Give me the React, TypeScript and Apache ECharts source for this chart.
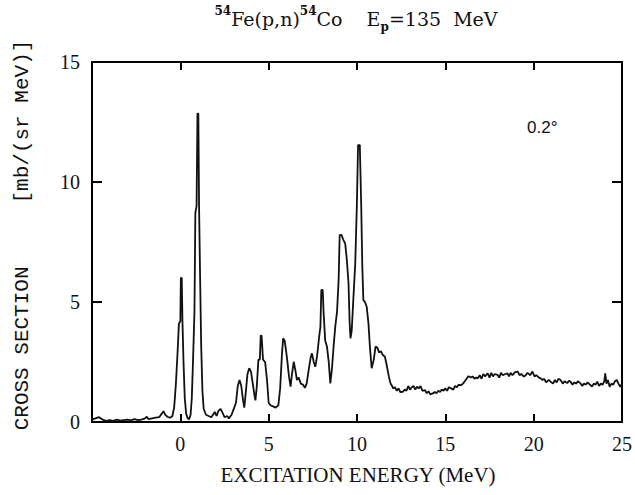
import React, { useEffect, useRef } from "react";
import * as echarts from "echarts";

// Excitation energy (MeV) and cross section (mb/(sr MeV))
const energy: number[] = [
  -5.0, -4.8, -4.6, -4.4, -4.2, -4.0, -3.8, -3.6, -3.4, -3.2, -3.0, -2.8, -2.6, -2.4, -2.2, -2.0, -1.9, -1.8, -1.6, -1.4,
  -1.2, -1.05, -0.95, -0.85, -0.7, -0.55, -0.45, -0.35, -0.25, -0.15, -0.08, 0.0, 0.03, 0.08, 0.12, 0.18, 0.25, 0.33, 0.42, 0.5,
  0.58, 0.65, 0.72, 0.8, 0.85, 0.92, 0.97, 1.02, 1.06, 1.12, 1.18, 1.25, 1.32, 1.45, 1.6, 1.75, 1.85, 1.95, 2.05, 2.15,
  2.28, 2.38, 2.5, 2.65, 2.75, 2.9, 3.05, 3.15, 3.25, 3.35, 3.45, 3.55, 3.62, 3.7, 3.8, 3.9, 4.0, 4.1, 4.2, 4.25,
  4.32, 4.42, 4.5, 4.55, 4.6, 4.68, 4.8, 4.9, 5.0, 5.1, 5.25, 5.4, 5.55, 5.65, 5.75, 5.82, 5.9, 5.98, 6.05, 6.15,
  6.24, 6.32, 6.42, 6.5, 6.6, 6.7, 6.82, 6.95, 7.05, 7.15, 7.25, 7.38, 7.45, 7.55, 7.64, 7.75, 7.85, 7.93, 7.98, 8.06,
  8.11, 8.2, 8.3, 8.4, 8.49, 8.58, 8.68, 8.77, 8.87, 8.96, 9.02, 9.12, 9.22, 9.33, 9.42, 9.52, 9.58, 9.63, 9.7, 9.8,
  9.9, 9.99, 10.06, 10.16, 10.24, 10.3, 10.36, 10.45, 10.55, 10.65, 10.73, 10.83, 10.95, 11.05, 11.15, 11.25, 11.35, 11.45, 11.58, 11.7,
  11.8, 11.9, 11.96, 12.05, 12.15, 12.25, 12.35, 12.45, 12.6, 12.7, 12.8, 12.9, 13.0, 13.1, 13.2, 13.3, 13.4, 13.5, 13.6, 13.7,
  13.84, 13.95, 14.05, 14.15, 14.3, 14.4, 14.5, 14.6, 14.7, 14.8, 14.9, 15.0, 15.1, 15.2, 15.33, 15.45, 15.55, 15.65, 15.75, 15.9,
  16.0, 16.1, 16.2, 16.3, 16.37, 16.45, 16.55, 16.65, 16.75, 16.84, 16.95, 17.05, 17.15, 17.25, 17.4, 17.5, 17.6, 17.7, 17.8, 17.96,
  18.05, 18.15, 18.25, 18.4, 18.52, 18.6, 18.7, 18.8, 18.95, 19.1, 19.2, 19.3, 19.45, 19.55, 19.65, 19.8, 19.93, 20.05, 20.15, 20.3,
  20.4, 20.5, 20.6, 20.7, 20.85, 20.96, 21.1, 21.2, 21.3, 21.4, 21.52, 21.65, 21.75, 21.9, 22.0, 22.09, 22.2, 22.3, 22.4, 22.5,
  22.65, 22.75, 22.85, 22.95, 23.05, 23.21, 23.3, 23.4, 23.5, 23.6, 23.7, 23.8, 23.9, 24.0, 24.05, 24.12, 24.2, 24.3, 24.4, 24.5,
  24.6, 24.7, 24.8, 24.9, 25.0,
];

const crossSection: number[] = [
  0.1, 0.15, 0.2, 0.1, 0.05, 0.08, 0.05, 0.1, 0.06, 0.08, 0.1, 0.07, 0.12, 0.08, 0.1, 0.15, 0.22, 0.12, 0.15, 0.18,
  0.2, 0.35, 0.45, 0.3, 0.2, 0.18, 0.25, 0.6, 1.6, 3.0, 4.1, 4.2, 6.0, 6.0, 4.2, 2.5, 1.0, 0.35, 0.15, 0.12,
  0.3, 1.0, 2.6, 4.6, 8.7, 9.0, 12.85, 12.85, 9.0, 6.0, 3.2, 1.3, 0.55, 0.3, 0.25, 0.2, 0.3, 0.42, 0.25, 0.45,
  0.55, 0.4, 0.2, 0.25, 0.15, 0.3, 0.6, 0.8, 1.5, 1.75, 1.5, 0.9, 0.6, 1.2, 2.0, 2.24, 2.1, 1.6, 1.1, 0.9,
  1.4, 2.6, 2.6, 3.6, 3.6, 2.6, 2.5, 1.8, 0.8, 0.7, 0.65, 0.6, 0.7, 1.4, 2.8, 3.49, 3.4, 3.0, 2.58, 1.9,
  1.47, 2.0, 2.51, 2.2, 1.75, 1.85, 1.6, 1.55, 1.42, 1.6, 2.1, 2.7, 2.86, 2.5, 2.3, 2.8, 3.5, 3.97, 5.5, 5.5,
  4.54, 3.4, 3.14, 2.5, 1.61, 2.2, 3.2, 3.97, 4.6, 5.92, 7.79, 7.8, 7.6, 7.44, 6.8, 5.78, 4.2, 3.49, 3.8, 5.22,
  6.6, 8.97, 11.54, 11.54, 8.97, 6.5, 5.08, 5.0, 4.8, 4.1, 3.14, 2.24, 2.6, 3.14, 3.1, 2.9, 2.95, 2.8, 2.72, 2.3,
  1.9, 1.6, 1.54, 1.4, 1.45, 1.3, 1.4, 1.25, 1.26, 1.35, 1.3, 1.5, 1.35, 1.45, 1.5, 1.35, 1.47, 1.4, 1.5, 1.3,
  1.33, 1.2, 1.28, 1.15, 1.19, 1.25, 1.2, 1.3, 1.25, 1.35, 1.3, 1.4, 1.3, 1.45, 1.4, 1.35, 1.5, 1.45, 1.55, 1.54,
  1.6, 1.7, 1.8, 1.9, 1.89, 1.85, 1.9, 1.8, 1.85, 1.82, 1.95, 1.8, 2.0, 1.9, 2.03, 1.85, 2.05, 1.9, 2.0, 1.96,
  1.85, 2.05, 1.95, 2.0, 2.03, 1.9, 2.05, 1.95, 2.08, 2.1, 1.95, 2.0, 1.89, 1.95, 2.05, 1.95, 2.1, 1.9, 1.95, 1.85,
  1.82, 1.75, 1.8, 1.65, 1.75, 1.68, 1.6, 1.75, 1.65, 1.8, 1.75, 1.6, 1.7, 1.62, 1.72, 1.68, 1.55, 1.65, 1.6, 1.7,
  1.61, 1.5, 1.6, 1.55, 1.65, 1.54, 1.48, 1.6, 1.55, 1.68, 1.5, 1.6, 1.55, 1.7, 2.03, 1.6, 1.75, 1.47, 1.6, 1.55,
  1.7, 1.75, 1.6, 1.47, 1.6,
];

const xTickLabels: number[] = [0, 5, 10, 15, 20, 25];
const yTickLabels: number[] = [0, 5, 10, 15];
const xInnerTicks: number[] = [0, 5, 10, 15, 20];
const yInnerTicks: number[] = [5, 10];

const X_MIN = -5;
const X_MAX = 25;
const Y_MIN = 0;
const Y_MAX = 15;

const INK = "#111";
const FRAME = "#000";

const GRID = { left: 92, right: 10, top: 62, bottom: 73 };
const W = 635;
const H = 495;

function axisLineOpt() {
  return { show: true, onZero: false, lineStyle: { color: FRAME, width: 2 } };
}
function axisTickOpt(length: number) {
  return { show: true, inside: true, length, lineStyle: { color: FRAME, width: 2 } };
}

export default function App() {
  const ref = useRef<HTMLDivElement>(null);

  useEffect(() => {
    if (!ref.current) return;
    const chart = echarts.init(ref.current, null, { renderer: "svg" });
    const points = energy.map((e, i) => [e, crossSection[i]]);
    const serif = "'Liberation Serif', 'Times New Roman', serif";
    const wideSerif = "'DejaVu Serif', serif";

    // tick lengths expressed in data units (8px on x-axis ticks, 10px on y-axis ticks)
    const plotW = W - GRID.left - GRID.right;
    const plotH = H - GRID.top - GRID.bottom;
    const xTickLen = (8 * (Y_MAX - Y_MIN)) / plotH;
    const yTickLen = (10 * (X_MAX - X_MIN)) / plotW;

    const tickSegments: any[] = [];
    xInnerTicks.forEach((x) => {
      tickSegments.push([{ coord: [x, Y_MIN] }, { coord: [x, Y_MIN + xTickLen] }]);
      tickSegments.push([{ coord: [x, Y_MAX] }, { coord: [x, Y_MAX - xTickLen] }]);
    });
    yInnerTicks.forEach((y) => {
      tickSegments.push([{ coord: [X_MIN, y] }, { coord: [X_MIN + yTickLen, y] }]);
      tickSegments.push([{ coord: [X_MAX, y] }, { coord: [X_MAX - yTickLen, y] }]);
    });

    chart.setOption({
      animation: false,
      backgroundColor: "#fff",
      grid: GRID,
      xAxis: [
        {
          type: "value",
          min: X_MIN,
          max: X_MAX,
          interval: 5,
          axisLine: axisLineOpt(),
          axisTick: axisTickOpt(8),
          splitLine: { show: false },
          axisLabel: {
            margin: 12,
            color: INK,
            fontFamily: serif,
            fontSize: 20,
            formatter: (v: number) => (xTickLabels.includes(v) ? String(v) : ""),
          },
        },
        {
          type: "value",
          position: "top",
          min: X_MIN,
          max: X_MAX,
          interval: 5,
          axisLine: axisLineOpt(),
          axisTick: axisTickOpt(8),
          splitLine: { show: false },
          axisLabel: { show: false },
        },
      ],
      yAxis: [
        {
          type: "value",
          min: Y_MIN,
          max: Y_MAX,
          interval: 5,
          axisLine: axisLineOpt(),
          axisTick: axisTickOpt(10),
          splitLine: { show: false },
          axisLabel: {
            margin: 12,
            color: INK,
            fontFamily: serif,
            fontSize: 20,
            formatter: (v: number) => (yTickLabels.includes(v) ? String(v) : ""),
          },
        },
        {
          type: "value",
          position: "right",
          min: Y_MIN,
          max: Y_MAX,
          interval: 5,
          axisLine: axisLineOpt(),
          axisTick: axisTickOpt(10),
          splitLine: { show: false },
          axisLabel: { show: false },
        },
      ],
      series: [
        {
          type: "line",
          data: points,
          showSymbol: false,
          lineStyle: { color: INK, width: 1.8 },
          xAxisIndex: 0,
          yAxisIndex: 0,
          z: 3,
          markLine: {
            silent: true,
            symbol: ["none", "none"],
            label: { show: false },
            lineStyle: { type: "solid", color: FRAME, width: 2 },
            emphasis: { disabled: true },
            data: tickSegments,
          },
        },
      ],
      graphic: [
        {
          type: "text",
          x: 356,
          y: 19,
          style: {
            text: "{sup|54}{n|Fe(p,n)}{sup|54}{n|Co    E}{sub|p}{n|=135  MeV}",
            align: "center",
            verticalAlign: "middle",
            rich: {
              n: { fontFamily: wideSerif, fontSize: 19, fill: INK, verticalAlign: "middle" },
              sup: { fontFamily: wideSerif, fontSize: 12, fontWeight: "bold", fill: INK, verticalAlign: "top", padding: [0, 0, 16, 0] },
              sub: { fontFamily: wideSerif, fontSize: 12, fontWeight: "bold", fill: INK, verticalAlign: "bottom", padding: [16, 0, 0, 0] },
            },
          },
        },
        {
          type: "text",
          x: 358,
          y: 475,
          style: {
            text: "EXCITATION ENERGY (MeV)",
            align: "center",
            verticalAlign: "middle",
            font: "21px 'Liberation Serif', serif",
            fill: INK,
          },
        },
        {
          type: "text",
          x: 22,
          y: 235,
          rotation: Math.PI / 2,
          style: {
            text: "CROSS SECTION     [mb/(sr MeV)]",
            align: "center",
            verticalAlign: "middle",
            font: "21px 'Liberation Mono', monospace",
            fill: INK,
          },
        },
        {
          type: "text",
          x: 527,
          y: 127,
          style: {
            text: "0.2°",
            align: "left",
            verticalAlign: "middle",
            font: "17px 'Liberation Sans', Arial, sans-serif",
            fill: INK,
          },
        },
      ],
    });

    return () => chart.dispose();
  }, []);

  return (
    <div
      ref={ref}
      style={{ position: "fixed", left: 0, top: 0, width: W, height: H, background: "#fff" }}
    />
  );
}
